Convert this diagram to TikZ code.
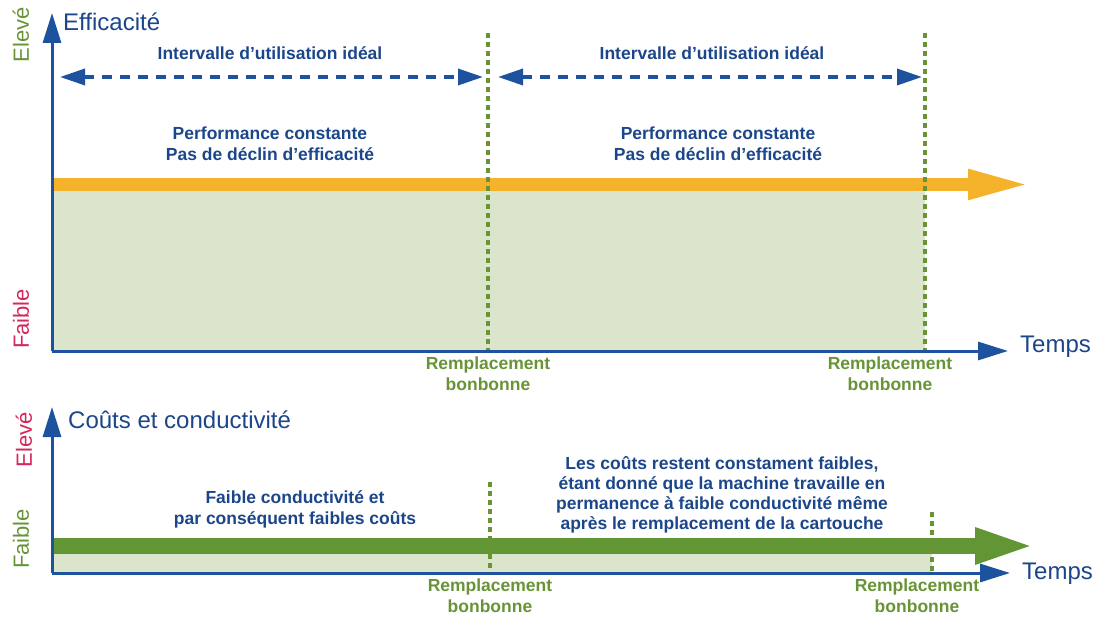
\documentclass[tikz,border=0pt]{standalone}
\usepackage{fontspec}
\setmainfont{Liberation Sans}
\usetikzlibrary{arrows.meta}
\definecolor{axblue}{RGB}{28,82,158}
\definecolor{txtblue}{RGB}{28,70,138}
\definecolor{grn}{RGB}{104,148,54}
\definecolor{lgrn}{RGB}{218,229,204}
\definecolor{orng}{RGB}{245,178,43}
\definecolor{barg}{RGB}{98,150,52}
\definecolor{pinkred}{RGB}{214,38,92}
\begin{document}
\begin{tikzpicture}[x=1pt,y=-1pt,
  axis/.style={axblue, line width=3pt, -{Triangle[length=30pt,width=18pt]}},
  repl/.style={grn, line width=3.2pt, dash pattern=on 5pt off 4pt},
  interval/.style={axblue, line width=3.5pt, dash pattern=on 10pt off 8pt,
     {Triangle[length=25pt,width=16pt]}-{Triangle[length=25pt,width=16pt]}},
  title/.style={text=txtblue, font=\fontsize{24}{28}\selectfont, inner sep=0pt},
  ylab/.style={rotate=90, font=\fontsize{22}{26}\selectfont, inner sep=0pt},
  body/.style={text=txtblue, font=\fontsize{17.5}{21}\selectfont\bfseries, align=center, inner sep=0pt},
  repltext/.style={text=grn, font=\fontsize{17.5}{21}\selectfont\bfseries, align=center, inner sep=0pt}
]
\useasboundingbox (0,0) rectangle (1115,617);
\fill[white] (0,0) rectangle (1115,617);

% ---------------- top chart ----------------
\fill[lgrn] (52,190) rectangle (925,350);
\coordinate (ob1) at (52,184.5);
\coordinate (ab1) at (1032,184.5);
\draw[orng, line width=13pt, -{Triangle[length=64pt,width=27pt]}] (ob1) -- (ab1);

\coordinate (r1t) at (488,33); \coordinate (r1b) at (488,351);
\coordinate (r2t) at (925,33); \coordinate (r2b) at (925,351);
\draw[repl] (r1t) -- (r1b);
\draw[repl] (r2t) -- (r2b);

\coordinate (i1a) at (60,77); \coordinate (i1b) at (483,77);
\coordinate (i2a) at (498,77); \coordinate (i2b) at (922,77);
\draw[interval] (i1a) -- (i1b);
\draw[interval] (i2a) -- (i2b);

\coordinate (o1) at (52,351);
\coordinate (y1) at (52,13);
\coordinate (x1) at (1008,351);
\draw[axis] (o1) -- (y1);
\draw[axis] (o1) -- (x1);

\node[title, anchor=west] (eff) at (63,22) {Efficacité};
\node[title, anchor=west] (temps1) at (1020,347) {Temps};
\node[ylab, text=grn] (elev1) at (21,35) {Elevé};
\node[ylab, text=pinkred] (faib1) at (21,319) {Faible};

\node[body] (int1) at (270,53) {Intervalle d’utilisation idéal};
\node[body] (int2) at (712,53) {Intervalle d’utilisation idéal};
\node[body] (perf1) at (270,144) {Performance constante\\Pas de déclin d’efficacité};
\node[body] (perf2) at (718,144) {Performance constante\\Pas de déclin d’efficacité};
\node[repltext] (rt1) at (488,374) {Remplacement\\bonbonne};
\node[repltext] (rt2) at (890,374) {Remplacement\\bonbonne};

% ---------------- bottom chart ----------------
\fill[lgrn] (52,554) rectangle (932,572);
\coordinate (ob2) at (52,546);
\coordinate (ab2) at (1037,546);
\draw[barg, line width=16pt, -{Triangle[length=62pt,width=32pt]}] (ob2) -- (ab2);

\coordinate (r3t) at (490,482); \coordinate (r3b) at (490,573);
\coordinate (r4t) at (932,512); \coordinate (r4b) at (932,573);
\draw[repl] (r3t) -- (r3b);
\draw[repl] (r4t) -- (r4b);

\coordinate (o2) at (52,573);
\coordinate (y2) at (52,407);
\coordinate (x2) at (1010,573);
\draw[axis] (o2) -- (y2);
\draw[axis] (o2) -- (x2);

\node[title, anchor=west] (couts) at (68,420) {Coûts et conductivité};
\node[title, anchor=west] (temps2) at (1022,574) {Temps};
\node[ylab, text=pinkred] (elev2) at (24,440) {Elevé};
\node[ylab, text=grn] (faib2) at (21,539) {Faible};

\node[body] (cond1) at (295,509) {Faible conductivité et\\par conséquent faibles coûts};
\node[body, font=\fontsize{17.5}{20}\selectfont\bfseries] (cond2) at (722,495) {Les coûts restent constament faibles,\\étant donné que la machine travaille en\\permanence à faible conductivité même\\après le remplacement de la cartouche};
\node[repltext] (rt3) at (490,596) {Remplacement\\bonbonne};
\node[repltext] (rt4) at (917,596) {Remplacement\\bonbonne};
\end{tikzpicture}
\end{document}
